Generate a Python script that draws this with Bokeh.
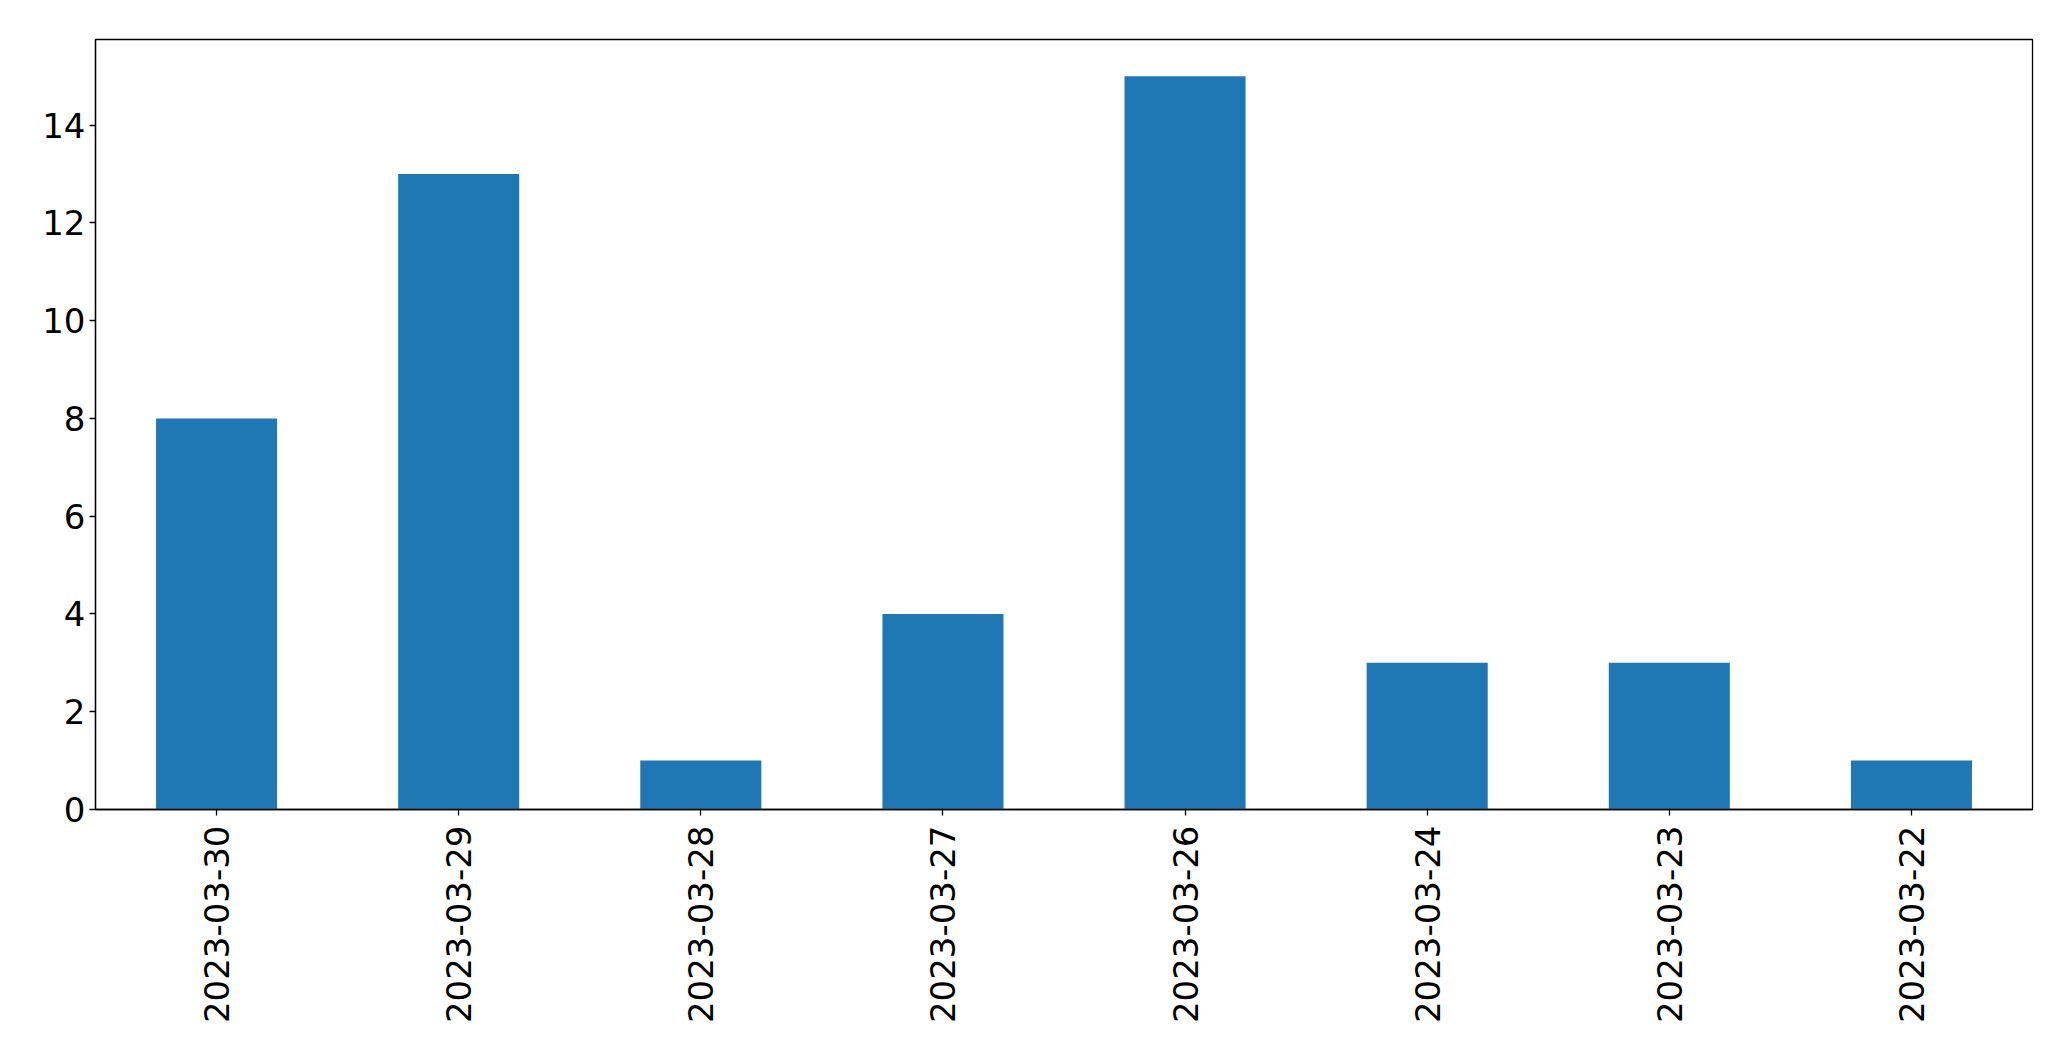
import math
from bokeh.plotting import figure
from bokeh.models import Range1d, FixedTicker, ColumnDataSource
from bokeh.embed import file_html
from bokeh.resources import INLINE

dates = ["2023-03-30", "2023-03-29", "2023-03-28", "2023-03-27",
         "2023-03-26", "2023-03-24", "2023-03-23", "2023-03-22"]
counts = [8, 13, 1, 4, 15, 3, 3, 1]
y_ticks = [0, 2, 4, 6, 8, 10, 12, 14]

src = ColumnDataSource(data=dict(dates=dates, counts=counts))

p = figure(x_range=dates, y_range=Range1d(0, 15.75),
           frame_width=1937, frame_height=770,
           min_border_left=95, min_border_top=39, min_border_right=31, min_border_bottom=230,
           output_backend="svg", toolbar_location=None)
p.vbar(x="dates", top="counts", width=0.5, source=src, color="#1f77b4", line_color=None)

p.xgrid.grid_line_color = None
p.ygrid.grid_line_color = None
p.outline_line_color = "black"
p.outline_line_alpha = 1
p.outline_line_width = 1.3

p.yaxis.ticker = FixedTicker(ticks=y_ticks)
for ax in (p.xaxis, p.yaxis):
    ax.axis_line_color = "black"
    ax.axis_line_width = 1.3
    ax.major_tick_line_color = "black"
    ax.major_tick_line_width = 1.3
    ax.major_tick_in = 0
    ax.major_tick_out = 6
    ax.minor_tick_line_color = None
    ax.major_label_text_font = "DejaVu Sans"
    ax.major_label_text_font_size = "34px"
    ax.major_label_text_color = "black"
p.yaxis.major_label_standoff = 4
p.xaxis.major_label_standoff = 10
p.xaxis.major_label_orientation = math.pi / 2

open("out.html", "w").write(file_html(p, INLINE))
